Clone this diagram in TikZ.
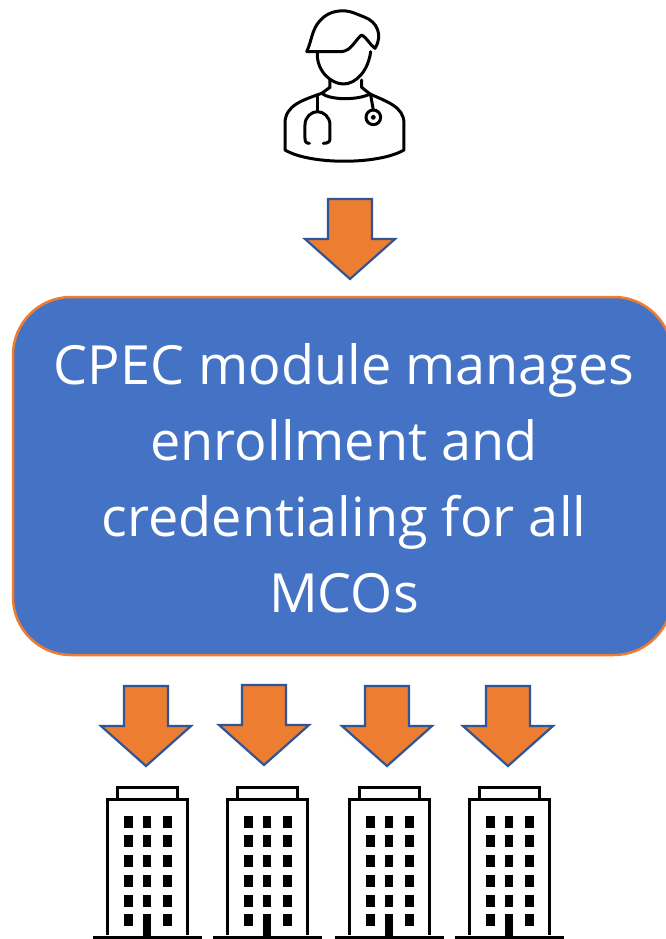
\documentclass[tikz,border=0pt]{standalone}
\usepackage{fontspec}
\setmainfont{Open Sans}
\definecolor{boxblue}{HTML}{4472C4}
\definecolor{arrowblue}{HTML}{2F5597}
\definecolor{boxorange}{HTML}{ED7D31}
\tikzset{
	icon/.style = {draw = black, line width = 3pt, line cap = round, line join = round},
	cpecbox/.style = {draw = boxorange, fill = boxblue, line width = 2.5pt, rounded corners = 58pt,
		minimum width = 659pt, minimum height = 358pt, inner sep = 0pt, text = white, align = center},
	downarrow/.pic = {
		\draw [fill = boxorange, draw = arrowblue, line width = 2.2pt, line join = miter]
			(-22, -81) -- (22, -81) -- (22, -41) -- (45, -41) -- (0, -1) -- (-45, -41) -- (-22, -41) -- cycle;
	},
	building/.pic = {
		% roof and body
		\draw [icon, line cap = butt, line join = miter] (-29.5, -148) rectangle (30.5, -136);
		\draw [icon, line cap = butt, line join = miter, fill = white] (-39.5, 0) -- (-39.5, -136) -- (40.5, -136) -- (40.5, 0);
		% ground and door
		\draw [icon, line cap = butt] (-54, 2) -- (55, 2);
		\fill (-4, -21) rectangle (4, 2);
		% windows
		\foreach \wy in {-113, -94, -74, -54, -34, -15} {
			\fill (-23.5, \wy - 6) rectangle (-14.5, \wy + 6);
			\fill (15.5, \wy - 6) rectangle (24.5, \wy + 6);
		}
		\foreach \wy in {-113, -94, -74, -54, -34} {
			\fill (-4, \wy - 6) rectangle (4, \wy + 6);
		}
	}
}
\begin{document}
\begin{tikzpicture}[x = 1pt, y = -1pt]
	\useasboundingbox (0, 0) rectangle (666, 939);

	% doctor
	\begin{scope}[shift = {(260, 0)}, x = .3333pt, y = -.3333pt]
		% hair
		\draw [icon] (140, 155) -- (245, 155) .. controls (275, 152) and (285, 120) .. (305, 105)
			.. controls (320, 112) and (330, 135) .. (345, 145)
			.. controls (370, 105) and (350, 65) .. (315, 52)
			-- (285, 40) .. controls (250, 25) and (205, 32) .. (180, 62)
			.. controls (155, 88) and (155, 125) .. (140, 155);
		% face
		\draw [icon] (172, 160) .. controls (170, 215) and (215, 252) .. (250, 252)
			.. controls (290, 252) and (325, 210) .. (332, 155);
		% neck, collar
		\draw [icon] (210, 240) -- (210, 262) -- (185, 280);
		\draw [icon] (305, 240) -- (305, 262) -- (330, 282);
		\draw [icon] (185, 280) .. controls (210, 300) and (290, 302) .. (330, 282);
		% body
		\draw [icon] (185, 280) .. controls (130, 300) and (75, 315) .. (75, 370)
			-- (75, 450) .. controls (150, 495) and (355, 495) .. (432, 450)
			-- (432, 370) .. controls (432, 320) and (380, 305) .. (330, 282);
		% stethoscope
		\draw [icon] (172, 290) -- (172, 335);
		\draw [icon] (148, 430) .. controls (138, 430) and (135, 425) .. (135, 415) -- (135, 375)
			.. controls (135, 350) and (155, 335) .. (172, 335)
			.. controls (190, 335) and (210, 350) .. (210, 375) -- (210, 415)
			.. controls (210, 425) and (205, 430) .. (190, 430);
		\draw [icon] (332, 285) -- (340, 330);
		\draw [icon] (340, 352) circle (22);
		\draw [icon, line width = 2pt] (340, 352) circle (5);
	\end{scope}

	% top arrow
	\pic at (350, 280) {downarrow};

	% module
	\node [cpecbox] (module) at (342.5, 476) {};
	\node [text = white, align = center, font = \fontsize{54}{76}\selectfont] (moduletext) at (344, 478)
		{CPEC module manages\\enrollment and\\credentialing for all\\MCOs};

	% arrows to buildings
	\pic at (146, 767) {downarrow};
	\pic at (264, 766) {downarrow};
	\pic at (387, 767) {downarrow};
	\pic at (508, 767) {downarrow};

	% buildings
	\pic at (147, 935) {building};
	\pic at (267, 935) {building};
	\pic at (389, 935) {building};
	\pic at (509, 935) {building};
\end{tikzpicture}
\end{document}
